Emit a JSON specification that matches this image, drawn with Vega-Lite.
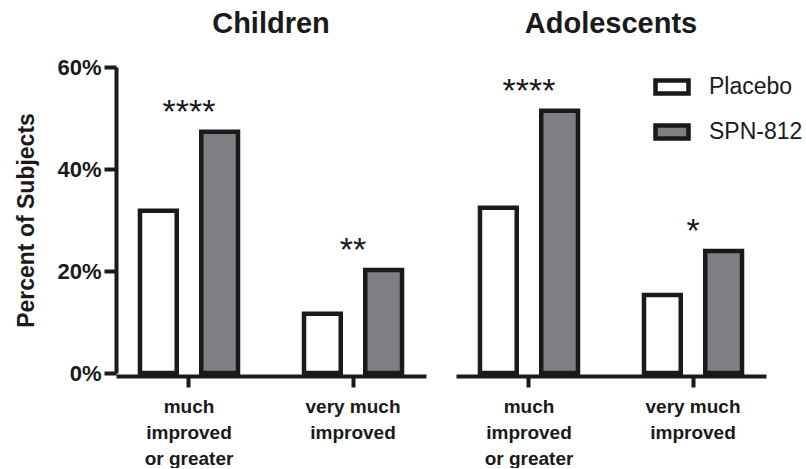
{
  "$schema": "https://vega.github.io/schema/vega-lite/v6.json",
  "padding": {"left": 15, "top": 10, "right": 0, "bottom": 0},
  "background": "white",
  "config": {
    "font": "Liberation Sans",
    "view": {"stroke": null},
    "axis": {"grid": false}
  },
  "data": {
    "values": [
      {"group": "Children", "category": "much improved or greater", "treatment": "Placebo", "value": 31.8, "sig": ""},
      {"group": "Children", "category": "much improved or greater", "treatment": "SPN-812", "value": 47.3, "sig": "****"},
      {"group": "Children", "category": "very much improved", "treatment": "Placebo", "value": 11.6, "sig": ""},
      {"group": "Children", "category": "very much improved", "treatment": "SPN-812", "value": 20.2, "sig": "**"},
      {"group": "Adolescents", "category": "much improved or greater", "treatment": "Placebo", "value": 32.4, "sig": ""},
      {"group": "Adolescents", "category": "much improved or greater", "treatment": "SPN-812", "value": 51.4, "sig": "****"},
      {"group": "Adolescents", "category": "very much improved", "treatment": "Placebo", "value": 15.3, "sig": ""},
      {"group": "Adolescents", "category": "very much improved", "treatment": "SPN-812", "value": 23.9, "sig": "*"}
    ]
  },
  "facet": {
    "column": {
      "field": "group",
      "type": "nominal",
      "sort": ["Children", "Adolescents"],
      "header": {"title": null, "labelFontSize": 29, "labelFontWeight": "bold", "labelColor": "#1a1a1a", "labelPadding": 28}
    }
  },
  "spacing": 30,
  "spec": {
    "width": 310,
    "height": 306,
    "layer": [
      {
        "mark": {"type": "bar", "stroke": "#1a1a1a", "strokeWidth": 4.5},
        "encoding": {
          "x": {
            "field": "category",
            "type": "nominal",
            "sort": ["much improved or greater", "very much improved"],
            "scale": {"paddingInner": 0.38, "paddingOuter": 0.135},
            "axis": {
              "title": null,
              "labelAngle": 0,
              "labelFontSize": 19,
              "labelFontWeight": "bold",
              "labelColor": "#1a1a1a",
              "labelLineHeight": 26,
              "labelPadding": 10,
              "labelExpr": "datum.value == 'much improved or greater' ? ['much', 'improved', 'or greater'] : ['very much', 'improved']",
              "domainColor": "#1a1a1a",
              "domainWidth": 4,
              "tickColor": "#1a1a1a",
              "tickWidth": 4,
              "tickSize": 11
            }
          },
          "xOffset": {
            "field": "treatment",
            "type": "nominal",
            "sort": ["Placebo", "SPN-812"],
            "scale": {"paddingInner": 0.4, "paddingOuter": 0.03}
          },
          "y": {
            "field": "value",
            "type": "quantitative",
            "scale": {"domain": [0, 60]},
            "axis": {
              "title": "Percent of Subjects",
              "titleFontSize": 23,
              "titleFontWeight": "bold",
              "titleColor": "#1a1a1a",
              "titlePadding": 18,
              "values": [0, 20, 40, 60],
              "labelExpr": "datum.value + '%'",
              "labelFontSize": 22,
              "labelFontWeight": "bold",
              "labelColor": "#1a1a1a",
              "labelPadding": 3,
              "domainColor": "#1a1a1a",
              "domainWidth": 4,
              "tickColor": "#1a1a1a",
              "tickWidth": 4,
              "tickSize": 12
            }
          },
          "fill": {
            "field": "treatment",
            "type": "nominal",
            "scale": {"domain": ["Placebo", "SPN-812"], "range": ["#ffffff", "#7e7f82"]},
            "legend": {
              "title": null,
              "orient": "none",
              "legendX": 537,
              "legendY": 1,
              "symbolType": "M-1,-0.4H1V0.4H-1Z",
              "symbolSize": 1089,
              "symbolStrokeColor": "#1a1a1a",
              "symbolStrokeWidth": 4.5,
              "labelFontSize": 23,
              "labelColor": "#1a1a1a",
              "labelOffset": 18,
              "rowPadding": 10
            }
          }
        }
      },
      {
        "transform": [{"filter": "datum.sig != ''"}],
        "mark": {"type": "text", "fontSize": 34, "color": "#1a1a1a", "baseline": "middle", "dy": -19},
        "encoding": {
          "x": {"field": "category", "type": "nominal", "sort": ["much improved or greater", "very much improved"]},
          "y": {"field": "value", "type": "quantitative"},
          "text": {"field": "sig"}
        }
      }
    ]
  }
}
